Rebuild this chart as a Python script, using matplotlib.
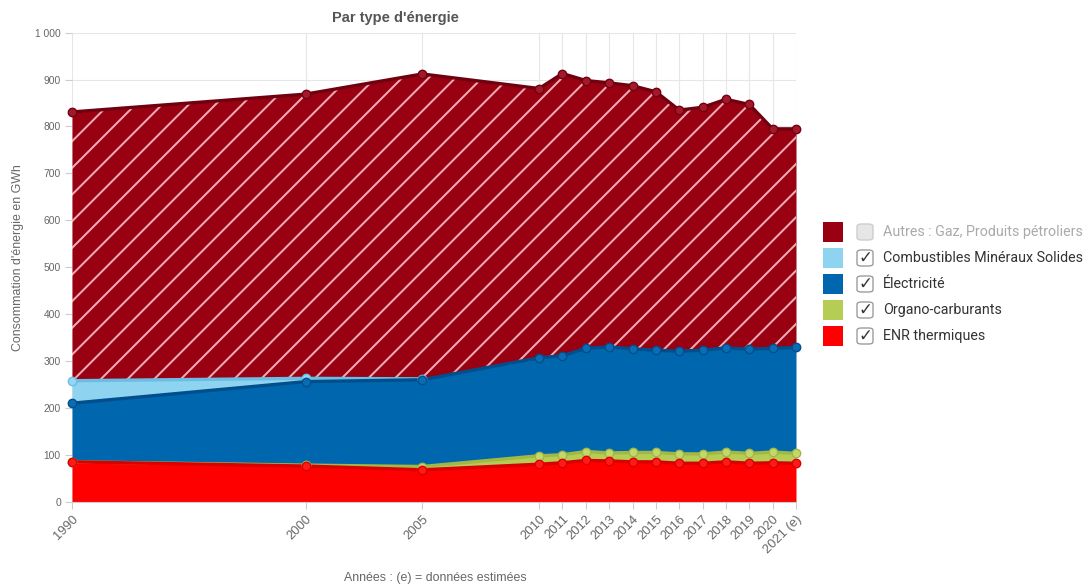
import matplotlib.pyplot as plt
import numpy as np
from matplotlib.patches import Rectangle, FancyBboxPatch

# data (GWh)
years = [1990, 2000, 2005, 2010, 2011, 2012, 2013, 2014, 2015, 2016, 2017, 2018, 2019, 2020, 2021]
year_labels = ['1990', '2000', '2005', '2010', '2011', '2012', '2013', '2014', '2015',
               '2016', '2017', '2018', '2019', '2020', '2021 (e)']
enr = [85, 76, 68, 80, 83, 88, 87, 85, 85, 82, 82, 85, 82, 83, 82]
organo = [0, 2, 7, 18, 17, 19, 17, 20, 20, 20, 20, 21, 21, 23, 21]
elec = [125, 178, 185, 209, 211, 220, 226, 221, 218, 219, 221, 222, 222, 221, 226]
cms = [48, 7, 2, 0, 0, 0, 0, 0, 0, 0, 0, 0, 0, 0, 0]
autres = [573, 606, 650, 574, 602, 571, 563, 561, 551, 514, 518, 530, 522, 468, 466]

names = ['ENR thermiques', 'Organo-carburants', 'Électricité',
         'Combustibles Minéraux Solides', 'Autres : Gaz, Produits pétroliers']
fills = ['#ff0000', '#b5cc55', '#0066ad', '#8ed3f0', '#990012']
lines = ['#d90000', '#a2b845', '#004f8c', '#6cbde3', '#700010']
marks = ['#ff1a1a', '#c3d86a', '#0a6db3', '#95d6f2', '#a3192a']

DPI = 160
W, H = 1084, 585
plt.rcParams['font.family'] = ['Liberation Sans', 'DejaVu Sans']
plt.rcParams['hatch.linewidth'] = 0.9

fig = plt.figure(figsize=(W / DPI, H / DPI), dpi=DPI)
ax = fig.add_axes([72 / W, 1 - 501.7 / H, (796 - 72) / W, (501.7 - 32.7) / H])

x = np.array(years, dtype=float)
series = [enr, organo, elec, cms, autres]
base = np.zeros(len(years))
tops = []
for vals, fc in zip(series, fills):
    top = base + np.array(vals, dtype=float)
    ax.fill_between(x, base, top, color=fc, lw=0, zorder=2)
    tops.append((base.copy(), top.copy()))
    base = top

# hatching on "Autres"
b, t = tops[4]
ax.fill_between(x, b, t, facecolor='none', edgecolor=(1, 0.85, 0.87, 0.8), lw=0,
                hatch='//', zorder=3)

# lines and markers, lower series drawn on top
for i in [4, 3, 2, 1, 0]:
    b, t = tops[i]
    vals = np.array(series[i])
    keep = vals > 0 if i == 3 else np.ones(len(vals), bool)
    ax.plot(x[keep], t[keep], color=lines[i], lw=1.5, zorder=4 + (5 - i) * 0.1)
    ax.plot(x[keep], t[keep], 'o', ms=3.8, mfc=marks[i], mec=lines[i], mew=0.6,
            zorder=5 + (5 - i) * 0.1, clip_on=False)

ax.set_xlim(1990, 2021)
ax.set_ylim(0, 1000)
ax.set_xticks(years)
ax.set_xticklabels(year_labels, rotation=45, ha='right', va='top',
                   rotation_mode='anchor', fontsize=5.8, color='#666666')
yt = np.arange(0, 1001, 100)
ax.set_yticks(yt)
ax.set_yticklabels([f'{v:,}'.replace(',', ' ') for v in yt], fontsize=4.6, color='#666666')
ax.tick_params(axis='both', length=3, width=0.5, color='#cccccc', pad=2)
ax.grid(True, color='#e6e6e6', lw=0.5, zorder=0)
ax.set_axisbelow(True)
for side in ['top', 'right', 'left']:
    ax.spines[side].set_visible(False)
ax.spines['bottom'].set_color('#cccccc')
ax.spines['bottom'].set_linewidth(0.5)

fig.text(395 / W, 1 - 18 / H, "Par type d'énergie", ha='center', va='center',
         fontsize=6.6, fontweight='bold', color='#555555')
fig.text(18 / W, 1 - 258 / H, "Consommation d'énergie en GWh", rotation=90,
         ha='center', va='center', fontsize=5.6, color='#666666')
fig.text(435 / W, 1 - 578 / H, 'Années : (e) = données estimées', ha='center',
         va='center', fontsize=5.6, color='#666666')

# legend with check boxes
rows_y = [232, 258, 284, 310, 336]
order = [4, 3, 2, 1, 0]
for ry, i in zip(rows_y, order):
    fig.add_artist(Rectangle((823 / W, 1 - (ry + 10) / H), 20 / W, 20 / H,
                             transform=fig.transFigure, color=fills[i], lw=0))
    off = i == 4
    fig.add_artist(FancyBboxPatch((857 / W, 1 - (ry + 8) / H), 16 / W, 16 / H,
                                  boxstyle='round,pad=0,rounding_size=0.004',
                                  transform=fig.transFigure,
                                  fc='#e6e6e6' if off else 'white',
                                  ec='#cccccc' if off else '#999999', lw=0.6))
    if not off:
        fig.text(865 / W, 1 - ry / H, '✓', ha='center', va='center', fontsize=7.5,
                 color='#333333', family=['DejaVu Sans'])
    fig.text(883 / W, 1 - ry / H, names[i], ha='left', va='center', fontsize=6.4,
             color='#aaaaaa' if off else '#333333', family=['Roboto', 'DejaVu Sans'])

fig.savefig('out.png', dpi=DPI)
